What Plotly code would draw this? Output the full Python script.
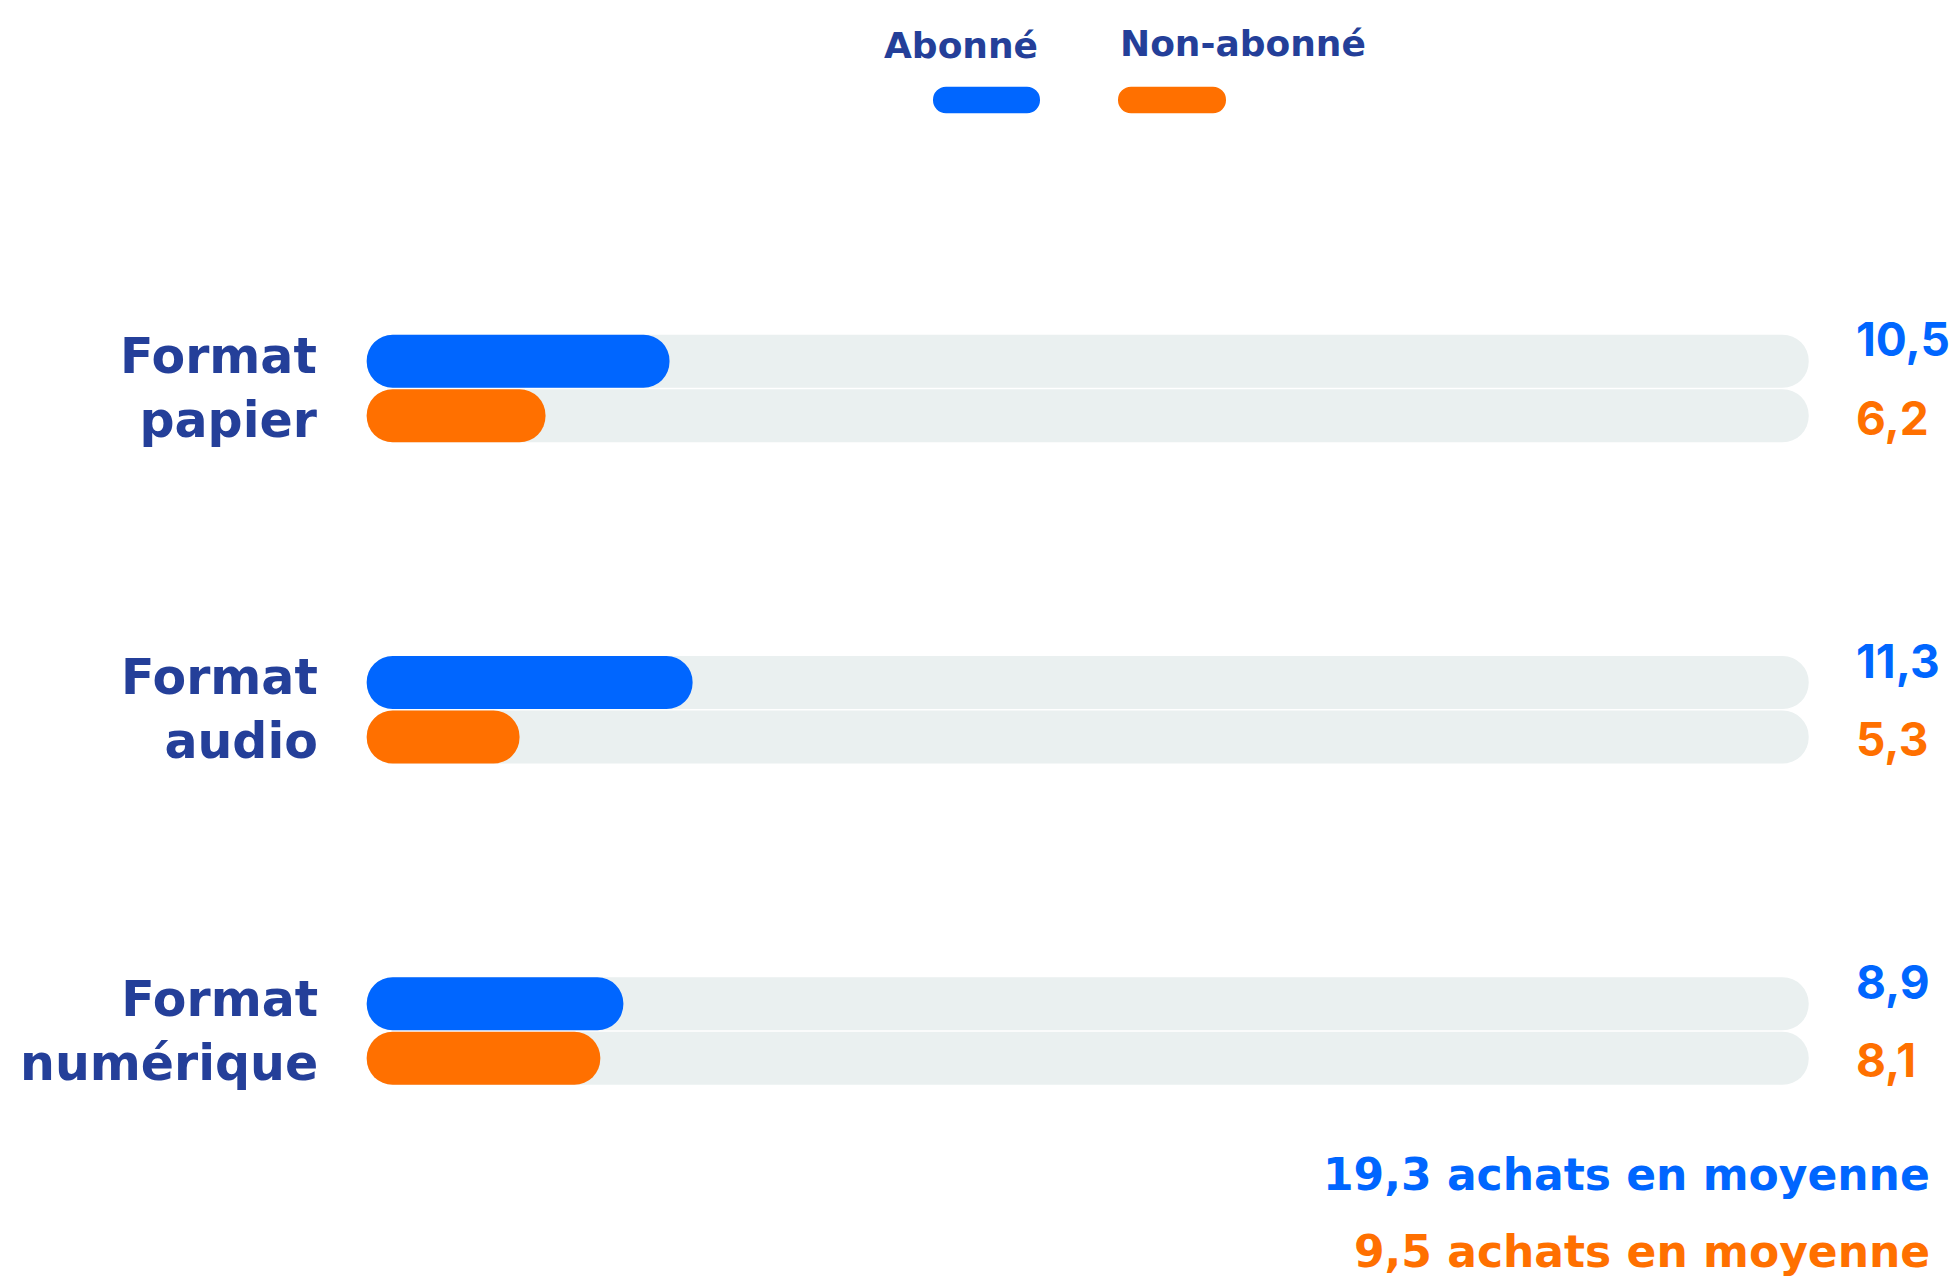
import plotly.graph_objects as go

# ---------------- data ----------------
categories = ["Format<br>papier", "Format<br>audio", "Format<br>numérique"]
abonne = [10.5, 11.3, 8.9]
non_abonne = [6.2, 5.3, 8.1]
abonne_labels = ["10,5", "11,3", "8,9"]
non_abonne_labels = ["6,2", "5,3", "8,1"]
series_names = ["Abonné", "Non-abonné"]
footer_texts = ["19,3 achats en moyenne", "9,5 achats en moyenne"]
track_max = 50

# ---------------- style ----------------
BLUE = "#0066FF"
ORANGE = "#FF7000"
NAVY = "#243F99"
TRACK = "#EAF0F0"
FONT = "DejaVu Sans"
NUM_FONT = "Inter"

PAGE = 8                      # default body margin of the html page
W, H = 1959 - PAGE, 1276 - PAGE
X0_PX, X_UNIT = 366.7, 28.84  # window pixel of x=0, pixels per x unit
Y0_PX, Y_UNIT = 388.5, 321.3  # window pixel of first group centre, pixels per group


def px_x(p):
    return (p - X0_PX) / X_UNIT


def px_y(p):
    return (p - Y0_PX) / Y_UNIT


BAR_PX = 53
OFF = 54.5 / 2 / Y_UNIT       # offset of each row from group centre

bar_traces = []


def pill(y, start, end, color, thick_px, name):
    """Bar with both ends fully rounded."""
    bar_traces.append(go.Bar(
        y=[y], x=[end - start], base=[start], orientation="h",
        width=thick_px / Y_UNIT,
        marker=dict(color=color, cornerradius="50%", line=dict(width=0)),
        showlegend=False, hoverinfo="skip", name=name))


annotations = []
for i, cat in enumerate(categories):
    yb = i - OFF
    yo = i + OFF
    pill(yb, 0, track_max, TRACK, BAR_PX, "track")
    pill(yo, 0, track_max, TRACK, BAR_PX, "track")
    pill(yb, 0, abonne[i], BLUE, BAR_PX, series_names[0])
    pill(yo, 0, non_abonne[i], ORANGE, BAR_PX, series_names[1])

    annotations.append(dict(x=0, y=i, xref="x", yref="y", text=cat, showarrow=False,
                            xanchor="right", yanchor="middle", xshift=-47, align="right",
                            font=dict(family=FONT, size=49, color=NAVY, weight="bold")))
    annotations.append(dict(x=track_max, y=yb, xref="x", yref="y", text=abonne_labels[i],
                            showarrow=False, xanchor="left", yanchor="middle",
                            xshift=45, yshift=22,
                            font=dict(family=NUM_FONT, size=46, color=BLUE, weight="bold")))
    annotations.append(dict(x=track_max, y=yo, xref="x", yref="y", text=non_abonne_labels[i],
                            showarrow=False, xanchor="left", yanchor="middle", xshift=45,
                            yshift=-2,
                            font=dict(family=NUM_FONT, size=46, color=ORANGE, weight="bold")))

# ---------------- legend ----------------
LEG_PX = 26.7
leg_y = px_y(100)
pill(leg_y, px_x(933), px_x(1040), BLUE, LEG_PX, series_names[0])
pill(leg_y, px_x(1118), px_x(1226), ORANGE, LEG_PX, series_names[1])
annotations.append(dict(x=px_x(1040), y=px_y(45), xref="x", yref="y", text=series_names[0],
                        showarrow=False, xanchor="right", yanchor="middle",
                        font=dict(family=FONT, size=36, color=NAVY, weight="bold")))
annotations.append(dict(x=px_x(1118), y=px_y(43), xref="x", yref="y", text=series_names[1],
                        showarrow=False, xanchor="left", yanchor="middle",
                        font=dict(family=FONT, size=36, color=NAVY, weight="bold")))

# ---------------- footer ----------------
annotations.append(dict(x=px_x(1932), y=px_y(1174), xref="x", yref="y", text=footer_texts[0],
                        showarrow=False, xanchor="right", yanchor="middle",
                        font=dict(family=FONT, size=44, color=BLUE, weight="bold")))
annotations.append(dict(x=px_x(1932), y=px_y(1251), xref="x", yref="y", text=footer_texts[1],
                        showarrow=False, xanchor="right", yanchor="middle",
                        font=dict(family=FONT, size=44, color=ORANGE, weight="bold")))

fig = go.Figure(data=bar_traces)
fig.update_layout(
    width=W, height=H,
    margin=dict(l=0, r=0, t=0, b=0),
    barmode="overlay",
    plot_bgcolor="white", paper_bgcolor="white",
    showlegend=False,
    annotations=annotations,
    xaxis=dict(range=[px_x(PAGE), px_x(PAGE + W)], visible=False, fixedrange=True),
    yaxis=dict(range=[px_y(PAGE + H), px_y(PAGE)], visible=False, fixedrange=True),
)

fig.write_html("out.html")
